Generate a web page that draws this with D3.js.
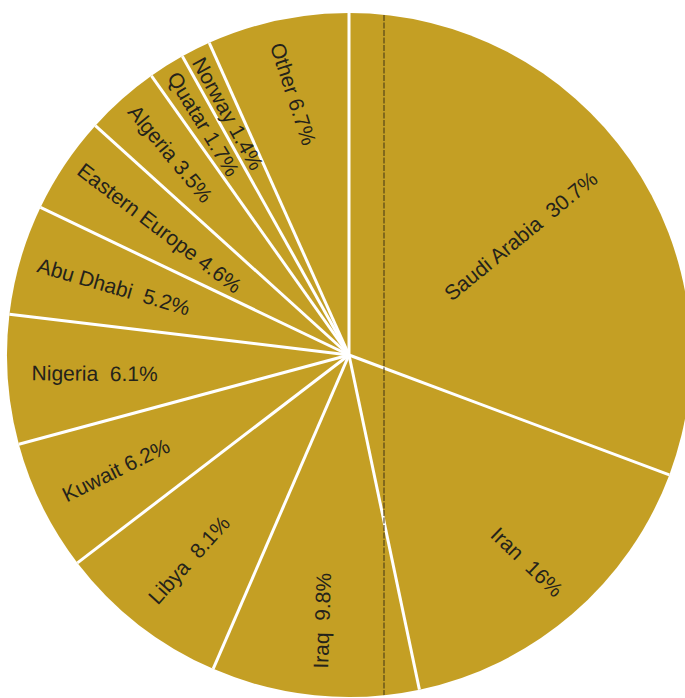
<!DOCTYPE html>
<html>
<head>
<meta charset="utf-8">
<script src="https://cdn.jsdelivr.net/npm/d3@7/dist/d3.min.js"></script>
<style>
  html, body { margin: 0; padding: 0; background: #fff; }
  svg { display: block; }
  text { font-family: "Liberation Sans", Arial, Helvetica, sans-serif; white-space: pre; }
</style>
</head>
<body>
<svg id="chart" width="685" height="698"></svg>
<script>
// Crude oil supply shares, clockwise from twelve o'clock
const countries = ["Saudi Arabia", "Iran", "Iraq", "Libya", "Kuwait", "Nigeria",
                   "Abu Dhabi", "Eastern Europe", "Algeria", "Quatar", "Norway", "Other"];
const shares = [30.7, 16, 9.8, 8.1, 6.2, 6.1, 5.2, 4.6, 3.5, 1.7, 1.4, 6.7];
const shareLabels = ["30.7%", "16%", "9.8%", "8.1%", "6.2%", "6.1%",
                     "5.2%", "4.6%", "3.5%", "1.7%", "1.4%", "6.7%"];

// Label layout: distance from the centre and a small hand-set tilt per slice
const labelRadius = [209, 273, 267, 260, 260, 255, 245, 228, 269, 273, 270, 267];
const labelTilt = [-4.5, -5.7, -4, 4, 0, 4.6, 0, 3.4, 2, 1, -2, -6];
const labelGap = ["  ", "  ", "  ", "  ", " ", "  ", "  ", " ", " ", " ", " ", " "];

const W = 685, H = 698;
const cx = 349, cy = 355, R = 342;
const fill = "#c49f24";
const ink = "#24231b";

const svg = d3.select("#chart");
const g = svg.append("g").attr("transform", `translate(${cx},${cy})`);

const data = countries.map((c, i) => ({ name: c, value: shares[i], label: shareLabels[i], i }));

const pie = d3.pie().sort(null).value(d => d.value).startAngle(0).endAngle(2 * Math.PI);
const arc = d3.arc().innerRadius(0).outerRadius(R);
const arcs = pie(data);

// Slices
g.selectAll("path.slice")
  .data(arcs)
  .join("path")
  .attr("class", "slice")
  .attr("d", arc)
  .attr("fill", fill);

// White dividing rules between slices
g.selectAll("line.rule")
  .data(arcs)
  .join("line")
  .attr("class", "rule")
  .attr("x1", 0).attr("y1", 0)
  .attr("x2", d => R * Math.sin(d.startAngle))
  .attr("y2", d => -R * Math.cos(d.startAngle))
  .attr("stroke", "#fff")
  .attr("stroke-width", 3)
  .attr("stroke-linecap", "butt");

// Fold crease running down through the disc
svg.append("clipPath").attr("id", "disc")
  .append("circle").attr("cx", cx).attr("cy", cy).attr("r", R);
svg.append("line")
  .attr("clip-path", "url(#disc)")
  .attr("x1", cx + 35).attr("x2", cx + 35)
  .attr("y1", 0).attr("y2", H)
  .attr("stroke", "#4a3d18")
  .attr("stroke-width", 1.2)
  .attr("stroke-dasharray", "6 1.5")
  .attr("opacity", 0.9);

// Radial labels
g.selectAll("text.lbl")
  .data(arcs)
  .join("text")
  .attr("class", "lbl")
  .attr("text-anchor", "middle")
  .attr("dy", "0.35em")
  .attr("font-size", 21)
  .attr("fill", ink)
  .attr("transform", d => {
    const a = (d.startAngle + d.endAngle) / 2;
    const r = labelRadius[d.data.i];
    const x = r * Math.sin(a), y = -r * Math.cos(a);
    const deg = a * 180 / Math.PI;
    let rot = deg < 180 ? deg - 90 : deg + 90 - 360;
    rot += labelTilt[d.data.i];
    return `translate(${x},${y}) rotate(${rot})`;
  })
  .text(d => d.data.name + labelGap[d.data.i] + d.data.label);
</script>
</body>
</html>
